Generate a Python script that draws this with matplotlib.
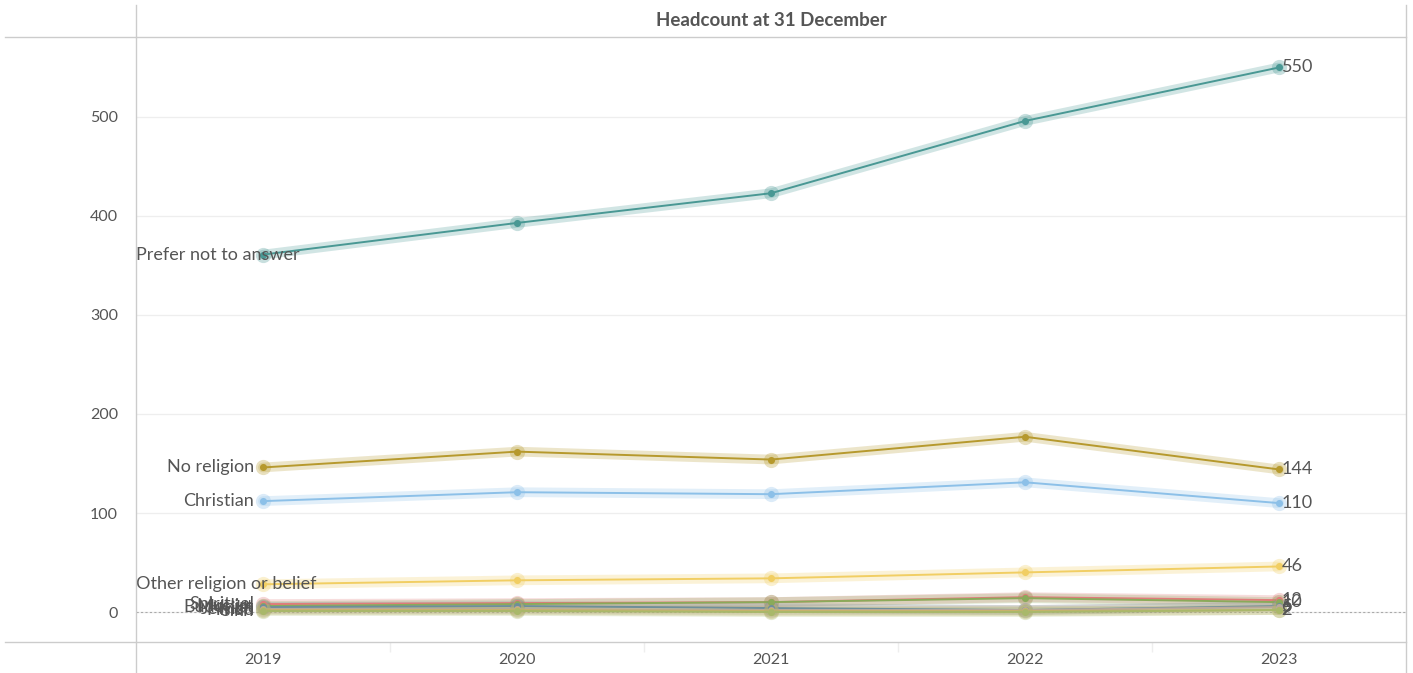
import matplotlib.pyplot as plt
from matplotlib.lines import Line2D

plt.rcParams['font.family'] = ['Lato', 'DejaVu Sans']

# data
years = [2019, 2020, 2021, 2022, 2023]
religions = ["Prefer not to answer", "No religion", "Christian", "Other religion or belief",
             "Spiritual", "Muslim", "Buddhist", "Jewish", "Hindu", "Sikh"]
headcount = [
    [361, 393, 423, 496, 550],
    [146, 162, 154, 177, 144],
    [112, 121, 119, 131, 110],
    [28, 32, 34, 40, 46],
    [8, 9, 10, 15, 12],
    [6, 8, 10, 14, 10],
    [5, 6, 4, 2, 6],
    [3, 3, 2, 2, 5],
    [2, 2, 1, 1, 2],
    [1, 1, 0, 0, 2],
]
colors = ["#499894", "#b6992d", "#8cc0e8", "#f1ce63", "#e07b7b",
          "#8aaa5a", "#6e8f9a", "#b9a89a", "#c9b36a", "#a9b86a"]
title = "Headcount at 31 December"

fig = plt.figure(figsize=(14.13, 6.73), dpi=100)
L, R, B, T = 136 / 1413, 1406 / 1413, 1 - 642 / 673, 1 - 37 / 673
ax = fig.add_axes([L, B, R - L, T - B])

for name, vals, c in zip(religions, headcount, colors):
    ax.plot(years, vals, color=c, lw=7, alpha=0.25, solid_capstyle='round', zorder=2)
    ax.plot(years, vals, color=c, lw=1.4, zorder=3)
    ax.scatter(years, vals, s=120, color=c, alpha=0.3, lw=0, zorder=3)
    ax.scatter(years, vals, s=26, color=c, lw=0, zorder=4)

# labels at the ends
txt = "#555555"
for name, vals in zip(religions, headcount):
    if name in ("Prefer not to answer", "Other religion or belief"):
        ax.text(2018.5, vals[0], name, ha='left', va='center', fontsize=13, color=txt, zorder=5)
    else:
        ax.text(years[0] - 0.035, vals[0], name, ha='right', va='center', fontsize=13, color=txt, zorder=5)
    ax.text(years[-1] + 0.01, vals[-1], str(vals[-1]), ha='left', va='center', fontsize=13,
            color=txt, zorder=5)

ax.set_xlim(2018.5, 2023.5)
ax.set_ylim(-30.3, 580.8)
ax.set_yticks([0, 100, 200, 300, 400, 500])
ax.set_xticks(years)
ax.set_xticks([2019.5, 2020.5, 2021.5, 2022.5], minor=True)
ax.tick_params(axis='y', length=0, labelsize=11.5, labelcolor=txt, pad=13)
ax.tick_params(axis='x', which='major', length=0, labelsize=11.5, labelcolor=txt, pad=8)
ax.tick_params(axis='x', which='minor', length=7, color='#eeeeee', width=1)
ax.grid(axis='y', color='#eeeeee', lw=0.9)
ax.axhline(0, color='#aaaaaa', lw=0.8, ls=(0, (2, 2)), zorder=1)
for s in ax.spines.values():
    s.set_visible(False)
ax.set_axisbelow(True)

# frame lines like the dashboard
line_c = '#cccccc'
fig.add_artist(Line2D([5 / 1413, R], [T, T], color=line_c, lw=1))
fig.add_artist(Line2D([5 / 1413, R], [B, B], color=line_c, lw=1))
fig.add_artist(Line2D([L, L], [0, 1 - 5 / 673], color=line_c, lw=1))
fig.add_artist(Line2D([R, R], [0, 1 - 5 / 673], color=line_c, lw=1))

fig.text((L + R) / 2, 1 - 21 / 673, title, ha='center', va='center', fontsize=13.5,
         fontweight='bold', color=txt)

fig.savefig("out.png", dpi=100)
